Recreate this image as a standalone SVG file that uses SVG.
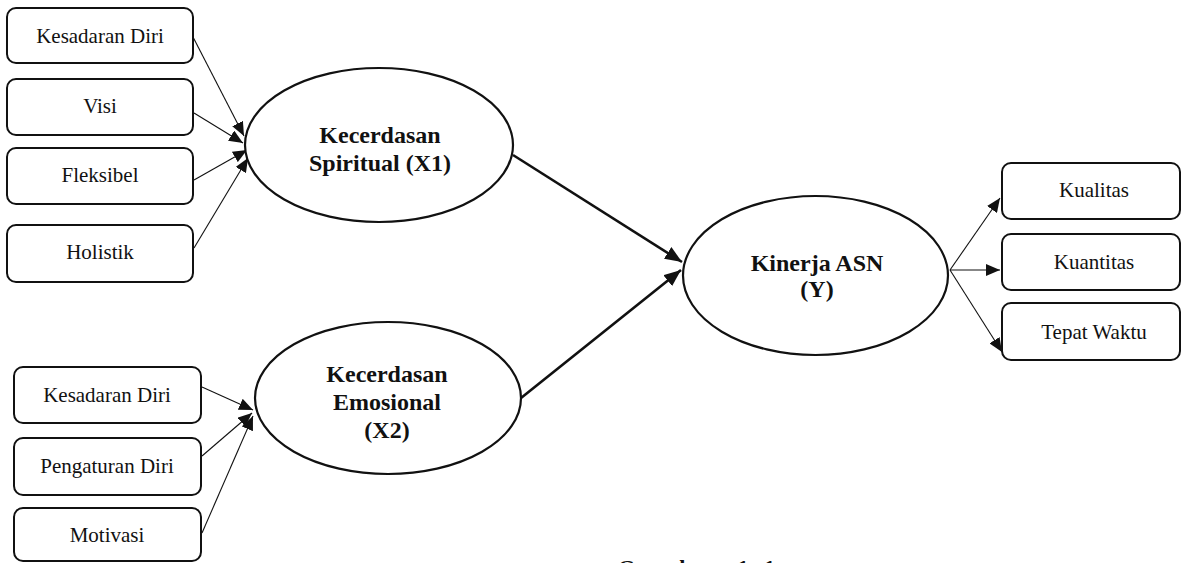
<svg xmlns="http://www.w3.org/2000/svg" width="1183" height="563" viewBox="0 0 1183 563">
<style>
.box{fill:#fff;stroke:#111;stroke-width:2}
.ell{fill:#fff;stroke:#111;stroke-width:2.2}
.t{font-family:"Liberation Serif","Times New Roman",serif;font-size:21px;fill:#111;text-anchor:middle}
.b{font-family:"Liberation Serif","Times New Roman",serif;font-size:24px;font-weight:bold;fill:#111;text-anchor:middle}
.thin{stroke:#111;stroke-width:1.1;fill:none;marker-end:url(#ah)}
.thick{stroke:#111;stroke-width:2.6;fill:none;marker-end:url(#ahb)}
</style>
<defs>
<marker id="ah" markerUnits="userSpaceOnUse" markerWidth="14" markerHeight="12" refX="14" refY="6" orient="auto"><path d="M0,0 L14,6 L0,12 z" fill="#111"/></marker>
<marker id="ahb" markerUnits="userSpaceOnUse" markerWidth="17" markerHeight="14" refX="17" refY="7" orient="auto"><path d="M0,0 L17,7 L0,14 z" fill="#111"/></marker>
</defs>
<rect width="1183" height="563" fill="#fff"/>
<g id="connectors">
<line class="thin" x1="193" y1="37" x2="244" y2="136"/>
<line class="thin" x1="194" y1="113" x2="243" y2="143"/>
<line class="thin" x1="194" y1="180" x2="247" y2="150"/>
<line class="thin" x1="194" y1="248" x2="248" y2="158"/>
<line class="thin" x1="202" y1="387" x2="253" y2="410"/>
<line class="thin" x1="202" y1="456" x2="252" y2="413"/>
<line class="thin" x1="202" y1="533" x2="253" y2="416"/>
<line class="thin" x1="950" y1="270" x2="1000" y2="198"/>
<line class="thin" x1="950" y1="270" x2="1000" y2="270"/>
<line class="thin" x1="950" y1="270" x2="1002" y2="352"/>
<line class="thick" x1="513" y1="155" x2="682" y2="262"/>
<line class="thick" x1="521" y1="398" x2="681" y2="270"/>
</g>
<g id="n-kd1"><rect class="box" x="7" y="8" width="186" height="55" rx="9"/><text class="t" x="100" y="43">Kesadaran Diri</text></g>
<g id="n-visi"><rect class="box" x="7" y="79" width="186" height="56" rx="9"/><text class="t" x="100" y="113">Visi</text></g>
<g id="n-fleksibel"><rect class="box" x="7" y="148" width="186" height="56" rx="9"/><text class="t" x="100" y="182">Fleksibel</text></g>
<g id="n-holistik"><rect class="box" x="7" y="225" width="186" height="57" rx="9"/><text class="t" x="100" y="259">Holistik</text></g>
<g id="n-kd2"><rect class="box" x="14" y="367" width="187" height="56" rx="9"/><text class="t" x="107" y="402">Kesadaran Diri</text></g>
<g id="n-pd"><rect class="box" x="14" y="438" width="187" height="57" rx="9"/><text class="t" x="107" y="473">Pengaturan Diri</text></g>
<g id="n-motivasi"><rect class="box" x="14" y="508" width="187" height="53" rx="9"/><text class="t" x="107" y="542">Motivasi</text></g>
<g id="n-x1"><ellipse class="ell" cx="379" cy="145" rx="134" ry="77"/><text class="b" x="380" y="143">Kecerdasan</text><text class="b" x="380" y="171">Spiritual (X1)</text></g>
<g id="n-x2"><ellipse class="ell" cx="388" cy="398" rx="133" ry="76"/><text class="b" x="387" y="382">Kecerdasan</text><text class="b" x="387" y="410">Emosional</text><text class="b" x="387" y="438">(X2)</text></g>
<g id="n-y"><ellipse class="ell" cx="815.5" cy="275.5" rx="132.5" ry="79.5"/><text class="b" x="817" y="271">Kinerja ASN</text><text class="b" x="817" y="297">(Y)</text></g>
<g id="n-kualitas"><rect class="box" x="1002" y="163" width="178" height="56" rx="9"/><text class="t" x="1094" y="197">Kualitas</text></g>
<g id="n-kuantitas"><rect class="box" x="1002" y="234" width="178" height="56" rx="9"/><text class="t" x="1094" y="269">Kuantitas</text></g>
<g id="n-tepat"><rect class="box" x="1002" y="303" width="178" height="57" rx="9"/><text class="t" x="1094" y="339">Tepat Waktu</text></g>
<text x="618" y="575" font-family="Liberation Serif, Times New Roman, serif" font-size="22" font-weight="bold" fill="#111" textLength="157" lengthAdjust="spacing">Gambar 1.1</text>
</svg>
